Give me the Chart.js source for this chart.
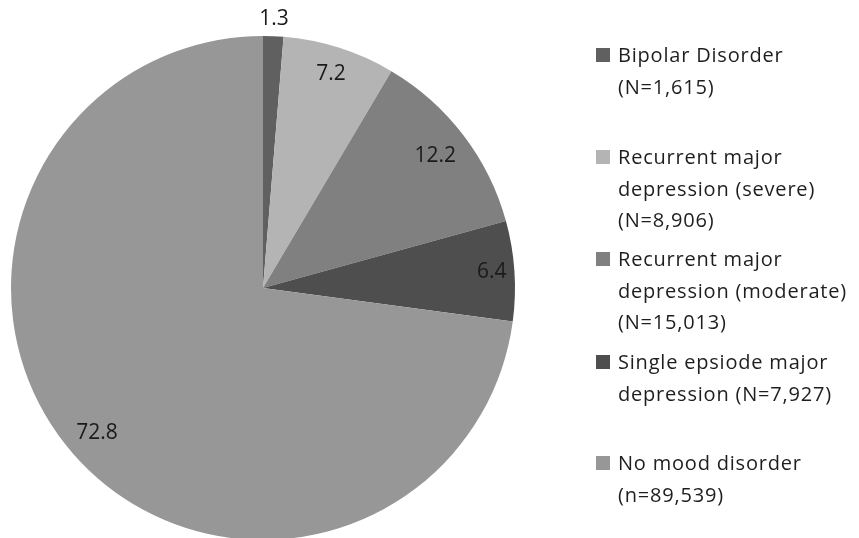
<!DOCTYPE html>
<html>
<head>
<meta charset="utf-8">
<script src="https://cdn.jsdelivr.net/npm/chart.js@4/dist/chart.umd.min.js"></script>
<style>
    html, body { margin: 0; padding: 0; background: #fff; overflow: hidden; }
    #wrap { position: absolute; left: 0; top: 0; width: 859px; height: 560px; }
    #legend { position: absolute; left: 596px; top: 0; font-family: "Open Sans", sans-serif; font-size: 20px; letter-spacing: 0.8px; color: #1e1e1e; }
    .item { position: absolute; left: 0; white-space: nowrap; line-height: 31.5px; }
    .box { position: absolute; left: 0; width: 14px; height: 14px; }
    .txt { position: absolute; left: 22px; top: 0; }
</style>
</head>
<body>
<div id="wrap"><canvas id="pieChart"></canvas></div>
<div id="legend"></div>
<script>
// Chart data
const categories = [
    ['Bipolar Disorder', '(N=1,615)'],
    ['Recurrent major', 'depression (severe)', '(N=8,906)'],
    ['Recurrent major', 'depression (moderate)', '(N=15,013)'],
    ['Single epsiode major', 'depression (N=7,927)'],
    ['No mood disorder', '(n=89,539)']
];
const percents = [1.3, 7.2, 12.2, 6.4, 72.8];
const colors = ['#606060', '#b4b4b4', '#808080', '#4e4e4e', '#979797'];

// Legend layout (first line y of each item)
const legendTops = [39, 141, 243, 346, 447];
const labelRadius = [1.07, 0.89, 0.86, 0.91, 0.875];

// Draw value labels on each slice
const sliceLabels = {
    id: 'sliceLabels',
    afterDatasetsDraw(chart) {
        const ctx = chart.ctx;
        const meta = chart.getDatasetMeta(0);
        ctx.save();
        ctx.font = '21px "Open Sans", sans-serif';
        ctx.fillStyle = '#1a1a1a';
        ctx.textAlign = 'center';
        ctx.textBaseline = 'middle';
        meta.data.forEach((arc, i) => {
            const p = arc.getProps(['x', 'y', 'startAngle', 'endAngle', 'outerRadius'], true);
            const mid = (p.startAngle + p.endAngle) / 2;
            const r = p.outerRadius * labelRadius[i];
            ctx.fillText(percents[i].toFixed(1), p.x + Math.cos(mid) * r, p.y + Math.sin(mid) * r);
        });
        ctx.restore();
    }
};

new Chart(document.getElementById('pieChart'), {
    type: 'pie',
    data: {
        labels: categories.map(c => c.join(' ')),
        datasets: [{
            data: percents,
            backgroundColor: colors,
            borderWidth: 0
        }]
    },
    options: {
        responsive: true,
        maintainAspectRatio: false,
        animation: false,
        layout: { padding: { left: 11, top: 36, right: 344, bottom: 20 } },
        plugins: {
            legend: { display: false },
            tooltip: { enabled: false }
        }
    },
    plugins: [sliceLabels]
});

// HTML legend
const legend = document.getElementById('legend');
categories.forEach((lines, i) => {
    const item = document.createElement('div');
    item.className = 'item';
    item.style.top = legendTops[i] + 'px';
    item.innerHTML = `<div class="box" style="top:9px;background:${colors[i]}"></div>` +
        `<div class="txt">${lines.join('<br>')}</div>`;
    legend.appendChild(item);
});
</script>
</body>
</html>
